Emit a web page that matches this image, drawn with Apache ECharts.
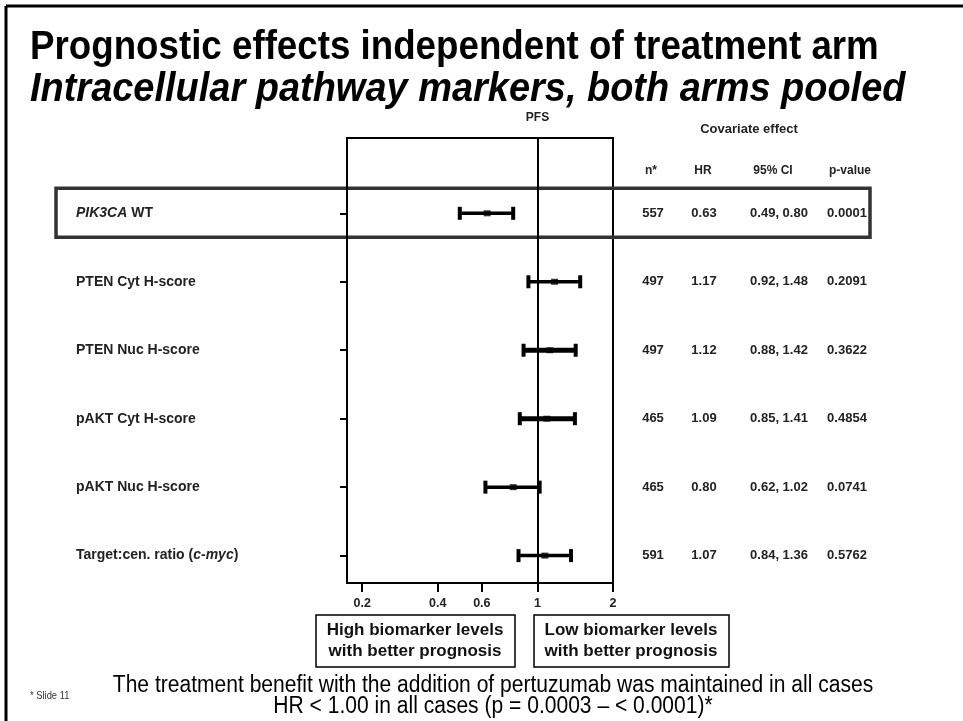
<!DOCTYPE html>
<html><head><meta charset="utf-8">
<script src="https://cdn.jsdelivr.net/npm/echarts@6/dist/echarts.min.js"></script>
<style>html,body{margin:0;padding:0;background:#fff}#c{width:963px;height:721px}</style>
</head><body><div id="c"></div>
<script>
// ---- data ----
const categories = ['PIK3CA WT','PTEN Cyt H-score','PTEN Nuc H-score','pAKT Cyt H-score','pAKT Nuc H-score','Target:cen. ratio (c-myc)'];
const nValues = [557, 497, 497, 465, 465, 591];
const hrValues = [0.63, 1.17, 1.12, 1.09, 0.80, 1.07];
const ciLow = [0.49, 0.92, 0.88, 0.85, 0.62, 0.84];
const ciHigh = [0.80, 1.48, 1.42, 1.41, 1.02, 1.36];
const pValues = ['0.0001', '0.2091', '0.3622', '0.4854', '0.0741', '0.5762'];
const xTicks = [0.2, 0.4, 0.6, 1, 2];
const tableHeaders = ['n*', 'HR', '95% CI', 'p-value'];

// ---- rendering ----
const SANS = "'Liberation Sans', Arial, sans-serif";
const rowIdx = categories.map((_, i) => i);
const fmtHR = v => v.toFixed(2);
function richLabel(s) {
  return s.replace('PIK3CA', '{i|PIK3CA}').replace('c-myc', '{i|c-myc}');
}
const colX = [653, 704, 779, 847];
const chart = echarts.init(document.getElementById('c'), null, {renderer: 'canvas'});
const option = {
  animation: false,
  backgroundColor: '#fff',
  grid: {left: 347, top: 138, width: 266, height: 445, show: true, borderColor: '#000', borderWidth: 2, backgroundColor: 'transparent'},
  xAxis: {
    type: 'log', logBase: 10, min: 0.174, max: 2.0,
    axisLine: {show: true, onZero: false, lineStyle: {color: '#000', width: 2}},
    axisTick: {show: true, customValues: xTicks, length: 9, lineStyle: {color: '#000', width: 2}},
    axisLabel: {customValues: xTicks, formatter: v => String(+(+v).toPrecision(3)), margin: 14,
      color: '#222', fontWeight: 'bold', fontSize: 12.5, fontFamily: SANS},
    splitLine: {show: false}, minorTick: {show: false}
  },
  yAxis: {
    type: 'value', inverse: true, min: -1.1, max: 5.4,
    axisLine: {show: true, onZero: false, lineStyle: {color: '#000', width: 2}},
    axisTick: {show: true, customValues: rowIdx, length: 7, lineStyle: {color: '#000', width: 2}},
    axisLabel: {customValues: rowIdx, formatter: v => richLabel(categories[Math.round(v)] || ''),
      align: 'left', margin: 271, color: '#222', fontWeight: 'bold', fontSize: 14, fontFamily: SANS,
      rich: {i: {fontStyle: 'italic', fontWeight: 'bold', fontSize: 14, color: '#222', fontFamily: SANS}}},
    splitLine: {show: false}
  },
  series: [
    {
      type: 'custom', name: 'CI', clip: false,
      data: rowIdx.map(i => [i, ciLow[i], ciHigh[i]]),
      encode: {x: [1, 2], y: 0},
      renderItem: (params, api) => {
        const i = api.value(0);
        const p1 = api.coord([api.value(1), i]);
        const p2 = api.coord([api.value(2), i]);
        const lw = (i === 2 || i === 3) ? 5 : 3.5;
        const cap = 13;
        const st = {stroke: '#000', lineWidth: lw};
        const cst = {stroke: '#000', lineWidth: 4};
        return {type: 'group', children: [
          {type: 'line', shape: {x1: p1[0], y1: p1[1], x2: p2[0], y2: p2[1]}, style: st},
          {type: 'line', shape: {x1: p1[0], y1: p1[1] - cap / 2, x2: p1[0], y2: p1[1] + cap / 2}, style: cst},
          {type: 'line', shape: {x1: p2[0], y1: p2[1] - cap / 2, x2: p2[0], y2: p2[1] + cap / 2}, style: cst}
        ]};
      }
    },
    {
      type: 'scatter', name: 'HR', symbol: 'rect', symbolSize: [7, 6],
      itemStyle: {color: '#000'},
      data: rowIdx.map(i => [hrValues[i], i]),
      markLine: {silent: true, symbol: 'none', animation: false, label: {show: false},
        lineStyle: {color: '#000', width: 2, type: 'solid'}, data: [{xAxis: 1}]}
    },
    {
      type: 'custom', name: 'table', clip: false,
      data: rowIdx.map(i => [1, i]),
      encode: {x: 0, y: 1},
      renderItem: (params, api) => {
        const i = api.value(1);
        const y = api.coord([1, i])[1];
        const vals = [String(nValues[i]), fmtHR(hrValues[i]), fmtHR(ciLow[i]) + ', ' + fmtHR(ciHigh[i]), pValues[i]];
        return {type: 'group', children: vals.map((t, k) => ({
          type: 'text', x: colX[k], y: y,
          style: {text: t, align: 'center', verticalAlign: 'middle', fill: '#222', font: 'bold 13px ' + SANS}
        }))};
      }
    }
  ]
};
chart.setOption(option);

const y0 = chart.convertToPixel({yAxisIndex: 0}, 0);
const gx1 = chart.convertToPixel({xAxisIndex: 0}, 1);
const graphics = [
  // slide frame
  {type: 'line', shape: {x1: 6, y1: 6, x2: 963, y2: 6}, style: {stroke: '#000', lineWidth: 3}},
  {type: 'line', shape: {x1: 6, y1: 6, x2: 6, y2: 721}, style: {stroke: '#000', lineWidth: 3}},
  // title
  {type: 'text', x: 30, y: 48, originX: 0, originY: 0, scaleX: 0.918, style: {text: 'Prognostic effects independent of treatment arm', verticalAlign: 'middle', fill: '#000', font: 'bold 40px ' + SANS}},
  {type: 'text', x: 30, y: 90, originX: 0, originY: 0, scaleX: 0.949, style: {text: 'Intracellular pathway markers, both arms pooled', verticalAlign: 'middle', fill: '#000', font: 'italic bold 40px ' + SANS}},
  // PFS label
  {type: 'text', x: gx1, y: 118, style: {text: 'PFS', align: 'center', verticalAlign: 'middle', fill: '#222', font: 'bold 12px ' + SANS}},
  // covariate header
  {type: 'text', x: 749, y: 129, style: {text: 'Covariate effect', align: 'center', verticalAlign: 'middle', fill: '#222', font: 'bold 13px ' + SANS}},
  // highlight box
  {type: 'rect', shape: {x: 56, y: y0 - 25, width: 814, height: 49}, style: {fill: 'none', stroke: '#333', lineWidth: 3.5}},
  // interpretation boxes
  {type: 'rect', shape: {x: 316, y: 615, width: 199, height: 52}, style: {fill: 'none', stroke: '#000', lineWidth: 1.5}},
  {type: 'rect', shape: {x: 534, y: 615, width: 195, height: 52}, style: {fill: 'none', stroke: '#000', lineWidth: 1.5}},
  {type: 'text', x: 415, y: 641, style: {text: 'High biomarker levels\nwith better prognosis', align: 'center', verticalAlign: 'middle', lineHeight: 21, fill: '#111', font: 'bold 17px ' + SANS}},
  {type: 'text', x: 631, y: 641, style: {text: 'Low biomarker levels\nwith better prognosis', align: 'center', verticalAlign: 'middle', lineHeight: 21, fill: '#111', font: 'bold 17px ' + SANS}},
  // footer
  {type: 'text', x: 30, y: 696, originX: 0, originY: 0, scaleX: 0.85, style: {text: '* Slide 11', verticalAlign: 'middle', fill: '#333', font: '11px ' + SANS}},
  {type: 'text', x: 493, y: 686, originX: 0, originY: 0, scaleX: 0.915, style: {text: 'The treatment benefit with the addition of pertuzumab was maintained in all cases', align: 'center', verticalAlign: 'middle', fill: '#000', font: '23px ' + SANS}},
  {type: 'text', x: 493, y: 707, originX: 0, originY: 0, scaleX: 0.915, style: {text: 'HR < 1.00 in all cases (p = 0.0003 \u2013 < 0.0001)*', align: 'center', verticalAlign: 'middle', fill: '#000', font: '23px ' + SANS}}
];
tableHeaders.forEach((h, k) => {
  graphics.push({type: 'text', x: [651, 703, 773, 850][k], y: 171, style: {text: h, align: 'center', verticalAlign: 'middle', fill: '#222', font: 'bold 12px ' + SANS}});
});
chart.setOption({graphic: graphics});
</script>
</body></html>
